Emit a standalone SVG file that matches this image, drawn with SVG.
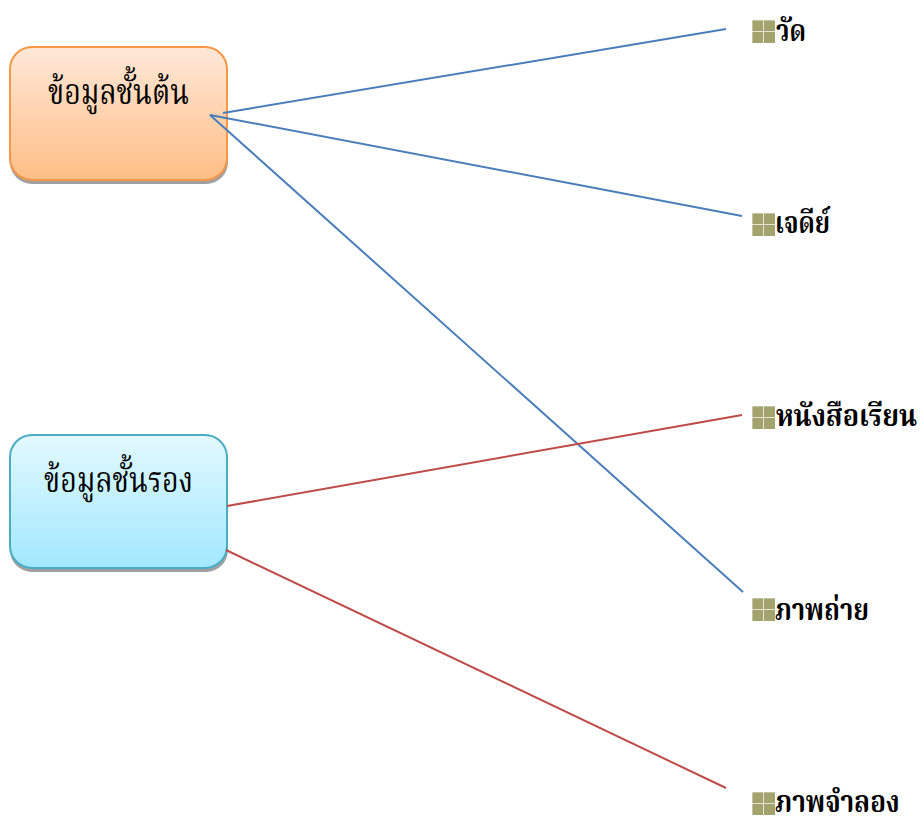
<svg xmlns="http://www.w3.org/2000/svg" width="923" height="816" viewBox="0 0 923 816">
<defs>
<linearGradient id="gradOrange" x1="0" y1="0" x2="0" y2="1"><stop offset="0" stop-color="#ffe8d8"/><stop offset="1" stop-color="#ffbe86"/></linearGradient>
<linearGradient id="gradBlue" x1="0" y1="0" x2="0" y2="1"><stop offset="0" stop-color="#e2f9ff"/><stop offset="1" stop-color="#a2e8ff"/></linearGradient>
<g id="bullet">
<rect x="0" y="0" width="23" height="23" fill="#e4e3d6"/>
<rect x="0.500" y="0.500" width="10.500" height="10.500" fill="#a3a36d"/>
<rect x="12" y="0.500" width="11" height="10.500" fill="#a3a36d"/>
<rect x="0.500" y="12" width="10.500" height="11" fill="#a3a36d"/>
<rect x="12" y="12" width="11" height="11" fill="#a3a36d"/>
</g>
</defs>
<style>
text{font-family:"Noto Serif Thai","Liberation Serif",serif;fill:#000}
.box{font-size:36px}
.item{font-size:31px;font-weight:bold}
.blue{stroke:#4a7ebb;stroke-width:2;fill:none}
.red{stroke:#be4b48;stroke-width:2;fill:none}
.shadow{fill:#a0a0a0}
</style>
<rect width="923" height="816" fill="#fff"/>
<g id="node-primary">
<rect class="shadow" x="10" y="50" width="218" height="134" rx="22"/>
<rect x="10" y="47" width="217" height="133" rx="22" fill="url(#gradOrange)" stroke="#f79646" stroke-width="2"/>
<text class="box" x="48" y="104" textLength="141" lengthAdjust="spacingAndGlyphs">ข้อมูลชั้นต้น</text>
</g>
<g id="node-secondary">
<rect class="shadow" x="10" y="438" width="218" height="134" rx="22"/>
<rect x="10" y="435" width="217" height="133" rx="22" fill="url(#gradBlue)" stroke="#4bacc6" stroke-width="2"/>
<text class="box" x="44" y="492" textLength="149" lengthAdjust="spacingAndGlyphs">ข้อมูลชั้นรอง</text>
</g>
<g id="item-wat"><use href="#bullet" x="752" y="20"/><text class="item" x="776" y="41" textLength="30" lengthAdjust="spacingAndGlyphs">วัด</text></g>
<g id="item-chedi"><use href="#bullet" x="752" y="213"/><text class="item" x="775" y="233" textLength="55" lengthAdjust="spacingAndGlyphs">เจดีย์</text></g>
<g id="item-book"><use href="#bullet" x="752" y="406"/><text class="item" transform="translate(776 426) scale(.87 1)">หนังสือเรียน</text></g>
<g id="item-photo"><use href="#bullet" x="752" y="598"/><text class="item" x="775" y="620" textLength="94" lengthAdjust="spacingAndGlyphs">ภาพถ่าย</text></g>
<g id="item-model"><use href="#bullet" x="752" y="792"/><text class="item" transform="translate(775 812) scale(.838 1)">ภาพจำลอง</text></g>
<g id="connectors">
<line class="blue" x1="223" y1="113" x2="726" y2="29"/>
<line class="blue" x1="210" y1="115" x2="742" y2="216"/>
<line class="blue" x1="210" y1="115" x2="743" y2="592"/>
<line class="red" x1="227" y1="506" x2="742" y2="415"/>
<line class="red" x1="226" y1="550" x2="726" y2="788"/>
</g>
</svg>
